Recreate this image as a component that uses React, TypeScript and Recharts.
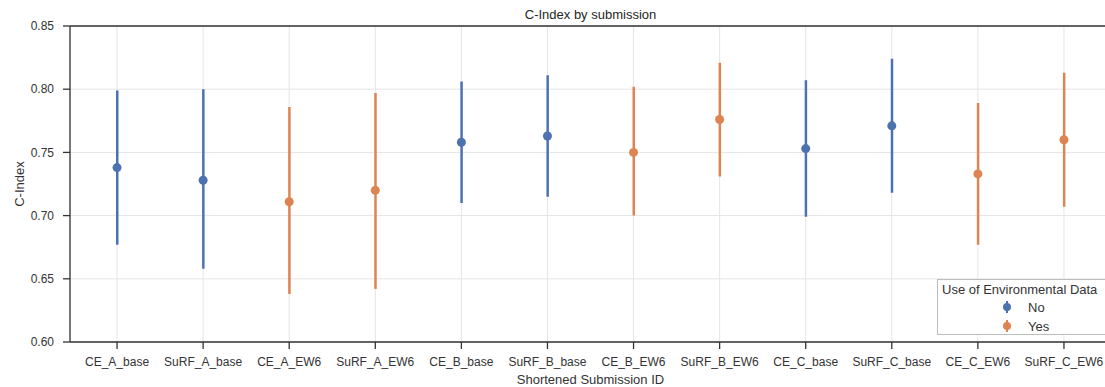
import {
  ComposedChart,
  Bar,
  Line,
  Cell,
  XAxis,
  YAxis,
  CartesianGrid,
  ReferenceLine,
} from 'recharts';

// submissions in plotted order
const submissions = [
  'CE_A_base', 'SuRF_A_base', 'CE_A_EW6', 'SuRF_A_EW6',
  'CE_B_base', 'SuRF_B_base', 'CE_B_EW6', 'SuRF_B_EW6',
  'CE_C_base', 'SuRF_C_base', 'CE_C_EW6', 'SuRF_C_EW6',
];
const envUsed = ['No', 'No', 'Yes', 'Yes', 'No', 'No', 'Yes', 'Yes', 'No', 'No', 'Yes', 'Yes'];
const cIndex = [0.738, 0.728, 0.711, 0.720, 0.758, 0.763, 0.750, 0.776, 0.753, 0.771, 0.733, 0.760];
const ciLow = [0.677, 0.658, 0.638, 0.642, 0.710, 0.715, 0.700, 0.731, 0.699, 0.718, 0.677, 0.707];
const ciHigh = [0.799, 0.800, 0.786, 0.797, 0.806, 0.811, 0.802, 0.821, 0.807, 0.824, 0.789, 0.813];
const yTicks = [0.6, 0.65, 0.7, 0.75, 0.8, 0.85];

const groups = ['No', 'Yes'];
const colors: Record<string, string> = { No: '#4c72b0', Yes: '#dd8452' };

const data = submissions.map((name, i) => ({
  name,
  env: envUsed[i],
  no: envUsed[i] === 'No' ? cIndex[i] : null,
  yes: envUsed[i] === 'Yes' ? cIndex[i] : null,
  ci: [ciLow[i], ciHigh[i]],
}));

const font = '"Liberation Sans", Arial, sans-serif';
const ink = '#333';

function EnvLegend() {
  return (
    <div
      style={{
        position: 'absolute',
        left: 937,
        top: 279,
        width: 175,
        height: 56,
        border: '1px solid #bdbdbd',
        background: '#fff',
        fontFamily: font,
        fontSize: 13,
        color: ink,
        boxSizing: 'border-box',
      }}
    >
      <div style={{ position: 'absolute', left: 4, top: 2, whiteSpace: 'nowrap' }}>
        Use of Environmental Data
      </div>
      {groups.map((g, i) => (
        <div
          key={g}
          style={{ position: 'absolute', left: 62, top: 19 + i * 19, display: 'flex', alignItems: 'center' }}
        >
          <svg width={14} height={16}>
            <line x1={7} y1={2} x2={7} y2={14} stroke={colors[g]} strokeWidth={2} />
            <circle cx={7} cy={8} r={4} fill={colors[g]} />
          </svg>
          <span style={{ marginLeft: 14 }}>{g}</span>
        </div>
      ))}
    </div>
  );
}

export default function App() {
  return (
    <div
      style={{
        position: 'absolute',
        left: 0,
        top: 0,
        width: 1105,
        height: 387,
        overflow: 'hidden',
        background: '#fff',
      }}
    >
      <ComposedChart
        width={1115}
        height={387}
        data={data}
        margin={{ top: 26, right: 4, bottom: 0, left: 0 }}
        style={{ fontFamily: font }}
      >
        <CartesianGrid stroke="#e5e5e5" strokeWidth={1} />
        <XAxis
          dataKey="name"
          height={45}
          padding={{ left: 4, right: 4 }}
          tickSize={7}
          tickMargin={8}
          interval={0}
          axisLine={{ stroke: ink, strokeWidth: 1.3 }}
          tickLine={{ stroke: ink, strokeWidth: 1.3 }}
          tick={{ fill: ink, fontSize: 12 }}
          label={{
            value: 'Shortened Submission ID',
            position: 'insideBottom',
            offset: 3,
            fill: ink,
            fontSize: 13,
          }}
        />
        <YAxis
          width={70}
          domain={[0.6, 0.85]}
          ticks={yTicks}
          allowDataOverflow
          tickSize={7}
          tickMargin={9}
          tickFormatter={(v: number) => v.toFixed(2)}
          axisLine={{ stroke: ink, strokeWidth: 1.3 }}
          tickLine={{ stroke: ink, strokeWidth: 1.3 }}
          tick={{ fill: ink, fontSize: 12 }}
          label={{
            value: 'C-Index',
            angle: -90,
            position: 'insideLeft',
            offset: 19,
            fill: ink,
            fontSize: 13,
            style: { textAnchor: 'middle' },
          }}
        />
        <ReferenceLine
          y={0.85}
          stroke={ink}
          strokeWidth={1.3}
          label={{
            value: 'C-Index by submission',
            position: 'top',
            offset: 7,
            fill: '#262626',
            fontSize: 13,
          }}
        />
        <Bar dataKey="ci" barSize={2.5} isAnimationActive={false}>
          {data.map((d) => (
            <Cell key={d.name} fill={colors[d.env]} />
          ))}
        </Bar>
        {groups.map((g) => (
          <Line
            key={g}
            dataKey={g === 'No' ? 'no' : 'yes'}
            name={g}
            stroke="none"
            dot={{ r: 4.5, fill: colors[g], stroke: colors[g], strokeWidth: 0 }}
            activeDot={false}
            isAnimationActive={false}
          />
        ))}
      </ComposedChart>
      <EnvLegend />
    </div>
  );
}
